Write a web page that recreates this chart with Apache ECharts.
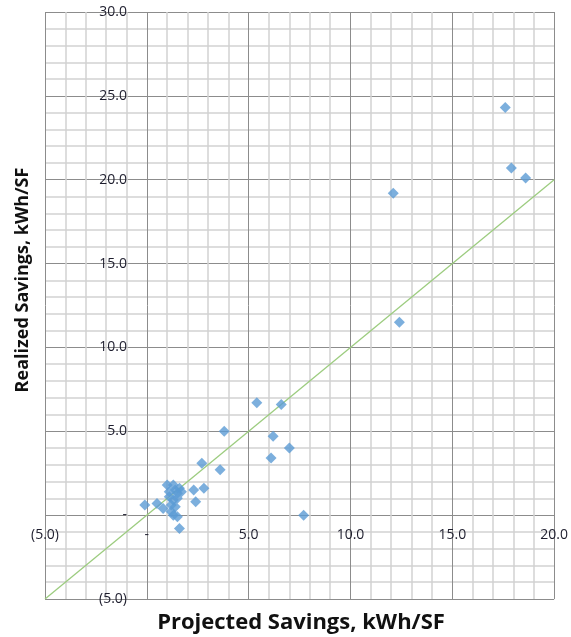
<!DOCTYPE html>
<html>
<head>
<meta charset="utf-8">
<script src="https://cdn.jsdelivr.net/npm/echarts@6/dist/echarts.min.js"></script>
<style>html,body{margin:0;padding:0;background:#fff}#c{width:571px;height:637px}</style>
</head>
<body>
<div id="c"></div>
<script>
const projected = [17.6, 17.9, 18.6, 12.1, 12.4, 5.4, 6.6, 3.8, 6.2, 7.0, 6.1, 2.7, 3.6, 2.8, 2.3, 2.4, 7.7, -0.1, 0.5, 0.8,
  1.0, 1.3, 1.6, 1.5, 1.1, 1.3, 1.5, 1.2, 1.4, 1.2, 1.3, 1.5, 1.6, 1.7, 1.4, 1.1];
const realized = [24.3, 20.7, 20.1, 19.2, 11.5, 6.7, 6.6, 5.0, 4.7, 4.0, 3.4, 3.1, 2.7, 1.6, 1.5, 0.8, 0.0, 0.6, 0.7, 0.4,
  1.8, 1.8, 1.6, 1.3, 1.1, 0.9, 1.0, 0.6, 0.5, 0.2, 0.0, -0.1, -0.8, 1.4, 1.5, 1.4];
const refLineX = [-5, 20];
const refLineY = [-5, 20];
const xTitle = 'Projected Savings, kWh/SF';
const yTitle = 'Realized Savings, kWh/SF';

function fmt(v) {
  if (v === 0) return '-';
  if (v < 0) return '(' + Math.abs(v).toFixed(1) + ')';
  return v.toFixed(1);
}

const W = 571, H = 637;
const G = { left: 45, right: 16, top: 12, bottom: 38 };
const X_MIN = -5, X_MAX = 20, Y_MIN = -5, Y_MAX = 30;
// offsets that put each axis on the other axis's zero
const plotW = W - G.left - G.right, plotH = H - G.top - G.bottom;
const xAxisOffset = -plotH * (0 - Y_MIN) / (Y_MAX - Y_MIN);
const yAxisOffset = -plotW * (0 - X_MIN) / (X_MAX - X_MIN);

const chart = echarts.init(document.getElementById('c'));
const font = 'Open Sans';
const majorColor = '#8c8c8c';
const minorColor = '#d2d2d2';
function axisCommon(min, max) {
  return {
    type: 'value', min: min, max: max, interval: 5,
    axisLine: { show: false, onZero: false },
    axisTick: { show: false },
    minorTick: { show: false, splitNumber: 5 },
    splitLine: { show: true, lineStyle: { color: majorColor, width: 1 } },
    minorSplitLine: { show: true, lineStyle: { color: minorColor, width: 1.5 } },
    axisLabel: { formatter: fmt, color: '#1e1e2e', fontFamily: font, fontSize: 14, showMinLabel: true, showMaxLabel: true }
  };
}
const xa = axisCommon(X_MIN, X_MAX);
xa.axisLabel.margin = 13;
xa.offset = xAxisOffset;
const ya = axisCommon(Y_MIN, Y_MAX);
ya.axisLabel.margin = 20;
ya.offset = yAxisOffset;

chart.setOption({
  animation: false,
  grid: Object.assign({ containLabel: false }, G),
  xAxis: xa,
  yAxis: ya,
  graphic: [
    { type: 'text', x: 301, y: 623, style: { text: xTitle, font: 'bold 22px "Open Sans"', fill: '#111', align: 'center', verticalAlign: 'middle' } },
    { type: 'text', x: 23, y: 280, rotation: Math.PI / 2, style: { text: yTitle, font: 'bold 18px "Open Sans"', fill: '#111', align: 'center', verticalAlign: 'middle' } }
  ],
  series: [
    {
      type: 'line', data: refLineX.map((x, i) => [x, refLineY[i]]), symbol: 'none',
      lineStyle: { color: '#9ccc7f', width: 1.3 }, z: 2, silent: true
    },
    {
      type: 'scatter', data: projected.map((x, i) => [x, realized[i]]), symbol: 'diamond', symbolSize: 11,
      itemStyle: { color: '#5b9bd5' }, z: 3
    }
  ]
});
</script>
</body>
</html>
